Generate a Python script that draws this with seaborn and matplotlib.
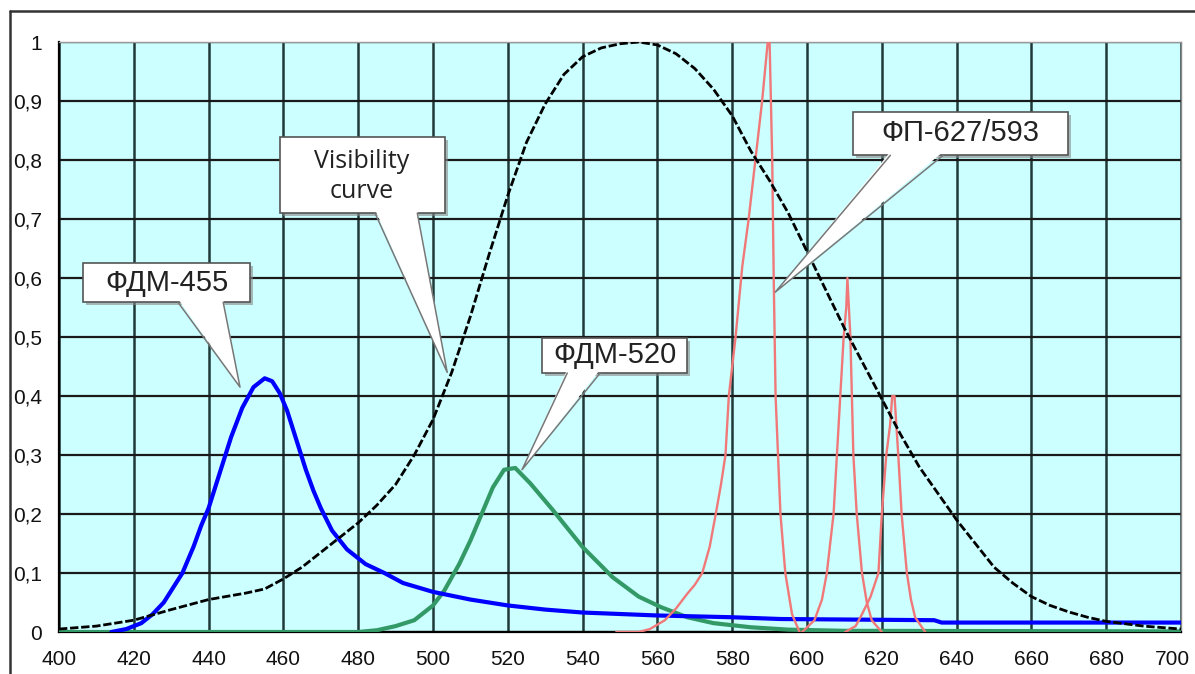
import numpy as np
import pandas as pd
import seaborn as sns
import matplotlib.pyplot as plt
import matplotlib.transforms as mtransforms
from matplotlib.patches import Rectangle, Polygon
import matplotlib.patheffects as pe

# visibility curve (black dotted)
vis_wl = [400, 410, 420, 430, 440, 450, 455, 460, 465, 470, 475, 480, 485, 490, 495, 500,
          505, 510, 515, 520, 525, 530, 535, 540, 545, 550, 555, 560, 565, 570, 575, 580,
          585, 590, 595, 600, 605, 610, 615, 620, 625, 630, 635, 640, 645, 650, 655, 660,
          665, 670, 675, 680, 690, 700]
vis_val = [0.005, 0.01, 0.02, 0.038, 0.055, 0.066, 0.073, 0.09, 0.11, 0.135, 0.16, 0.185,
           0.215, 0.25, 0.3, 0.36, 0.44, 0.535, 0.64, 0.74, 0.83, 0.895, 0.945, 0.975,
           0.99, 0.997, 1.0, 0.995, 0.98, 0.955, 0.92, 0.875, 0.815, 0.765, 0.71, 0.645,
           0.58, 0.515, 0.455, 0.395, 0.335, 0.28, 0.235, 0.19, 0.15, 0.11, 0.083, 0.06,
           0.045, 0.034, 0.025, 0.018, 0.01, 0.005]

# ФДМ-455 (blue)
b_wl = [414, 418, 420, 422, 425, 428, 430, 433, 436, 438, 440, 443, 446, 449, 452, 455, 457,
        459, 461, 463, 466, 468, 470, 473, 477, 482, 487, 492, 500, 510, 520, 530, 540, 560,
        580, 593, 634, 636, 700]
b_val = [0.0, 0.005, 0.01, 0.015, 0.03, 0.05, 0.07, 0.1, 0.145, 0.18, 0.21, 0.27, 0.33, 0.38,
         0.415, 0.43, 0.425, 0.405, 0.375, 0.335, 0.275, 0.24, 0.21, 0.172, 0.14, 0.115, 0.1,
         0.083, 0.068, 0.055, 0.045, 0.038, 0.033, 0.028, 0.025, 0.022, 0.02, 0.016, 0.016]

# ФДМ-520 (green)
g_wl = [400, 480, 485, 490, 495, 500, 503, 507, 510, 513, 516, 519, 522, 526, 532, 540, 548,
        555, 561, 568, 575, 585, 595, 610, 700]
g_val = [0.0, 0.0, 0.003, 0.01, 0.02, 0.045, 0.07, 0.115, 0.155, 0.2, 0.245, 0.275, 0.278,
         0.252, 0.207, 0.144, 0.093, 0.06, 0.042, 0.025, 0.015, 0.008, 0.004, 0.002, 0.001]

# ФП-627/593 (red), three peaks
r1_wl = [549, 555, 558, 562, 565, 568, 570, 572, 574, 575.6, 577, 578.2, 579.1, 580.9, 582.7,
         584.4, 586.2, 588, 589.5, 590, 590.7, 591.1, 591.6, 592.9, 594.2, 596, 598]
r1_val = [0, 0, 0.005, 0.02, 0.04, 0.065, 0.08, 0.1, 0.145, 0.2, 0.25, 0.3, 0.4, 0.5, 0.62,
          0.7, 0.8, 0.9, 1.0, 1.0, 0.8, 0.6, 0.4, 0.2, 0.1, 0.03, 0.0]
r2_wl = [598.7, 602, 604, 605.3, 607.1, 608, 608.9, 609.8, 610.5, 610.8, 611.6, 612, 612.4,
         613.3, 614.7, 616, 617.3, 620]
r2_val = [0, 0.02, 0.055, 0.1, 0.2, 0.3, 0.4, 0.5, 0.55, 0.6, 0.5, 0.4, 0.3, 0.2, 0.1, 0.05,
          0.02, 0]
r3_wl = [610.2, 613, 614.7, 617, 619.1, 620, 621.2, 622.2, 622.8, 623.4, 624.4, 625.3, 626.7,
         627.8, 628.9, 631.6]
r3_val = [0, 0.01, 0.03, 0.06, 0.1, 0.2, 0.3, 0.35, 0.4, 0.4, 0.3, 0.2, 0.1, 0.055, 0.025, 0]

x_ticks = list(range(400, 701, 20))
y_ticks = [round(0.1 * i, 1) for i in range(11)]
y_labels = ["0", "0,1", "0,2", "0,3", "0,4", "0,5", "0,6", "0,7", "0,8", "0,9", "1"]

sns.set_style("white")
plt.rcParams['font.family'] = ['Liberation Sans', 'DejaVu Sans']

fig = plt.figure(figsize=(11.95, 6.74), dpi=100)
ax = fig.add_axes([59 / 1195, 1 - 632 / 674, (1181 - 59) / 1195, (632 - 42) / 674])
ax.set_facecolor('#ccffff')

# outer frame of the picture
fig.add_artist(plt.Line2D([10 / 1195, 10 / 1195], [-0.01, 1 - 11 / 674], color='#333',
                          lw=1.8, transform=fig.transFigure))
fig.add_artist(plt.Line2D([10 / 1195, 1.0], [1 - 11 / 674, 1 - 11 / 674], color='#333',
                          lw=1.8, transform=fig.transFigure))

sns.lineplot(x=g_wl, y=g_val, ax=ax, color='#339966', lw=3, zorder=3)
sns.lineplot(x=b_wl, y=b_val, ax=ax, color='#0000ff', lw=3, zorder=3)
for wl, val in [(r1_wl, r1_val), (r2_wl, r2_val), (r3_wl, r3_val)]:
    sns.lineplot(x=wl, y=val, ax=ax, color='#f07878', lw=1.7, zorder=3)
sns.lineplot(x=vis_wl, y=vis_val, ax=ax, color='black', lw=2, zorder=4,
             linestyle=(0, (3, 1)))

ax.set_xlim(400, 700)
ax.set_ylim(0, 1)
ax.set_xticks(x_ticks)
ax.set_yticks(y_ticks)
ax.set_yticklabels(y_labels)
ax.tick_params(axis='both', labelsize=15, length=7, width=1.2, color='black', direction='out',
               labelcolor='#111')
ax.tick_params(axis='x', pad=6)
ax.tick_params(axis='y', pad=5)
ax.grid(True, color='#1a1a1a', lw=1.6)
ax.set_axisbelow(True)
ax.xaxis.grid(True, color='#203838', lw=1.8)
for s in ['left', 'bottom']:
    ax.spines[s].set_color('black')
    ax.spines[s].set_linewidth(1.6)
ax.spines['top'].set_color('#999')
ax.spines['top'].set_linewidth(1)
ax.spines['right'].set_color('#888')
ax.spines['right'].set_linestyle((0, (1, 1)))
ax.spines['right'].set_linewidth(1)

# keep the last x label inside the picture
last = ax.get_xticklabels()[-1]
last.set_transform(last.get_transform() +
                   mtransforms.ScaledTranslation(-6 / 72, 0, fig.dpi_scale_trans))


def callout(text, box, base, tip, center, family, fs, ls=1.2):
    x0, x1, y0, y1 = box
    shadow = [pe.SimplePatchShadow(offset=(2, -2), shadow_rgbFace='#888', alpha=0.6),
              pe.Normal()]
    ax.add_patch(Rectangle((x0, y0), x1 - x0, y1 - y0, fc='white', ec='#555', lw=1.2,
                           zorder=6, path_effects=shadow))
    ax.add_patch(Polygon([(base[0], y0 + 0.006), (base[1], y0 + 0.006), tip], closed=True,
                         fc='white', ec='none', zorder=7))
    ax.plot([base[0], tip[0], base[1]], [y0, tip[1], y0], color='#777', lw=1.1, zorder=7)
    ax.text(center[0], center[1], text, ha='center', va='center', fontsize=fs,
            family=family, color='#222', zorder=8, linespacing=ls)


callout("ФДМ-455", (406.4, 451.1, 0.559, 0.625), (431.8, 443.9), (448.4, 0.415),
        (428.8, 0.592), ['Liberation Sans', 'DejaVu Sans'], 21)
callout("Visibility\ncurve", (459.1, 503.2, 0.710, 0.839), (484.5, 495.8), (503.8, 0.44),
        (480.8, 0.772), ['Open Sans', 'DejaVu Sans'], 18, 1.3)
callout("ФДМ-520", (529.2, 568.0, 0.439, 0.498), (535.9, 544.7), (523.8, 0.275),
        (548.7, 0.469), ['Liberation Sans', 'DejaVu Sans'], 21)
callout("ФП-627/593", (612.4, 669.9, 0.808, 0.881), (622.3, 636.4), (591.5, 0.576),
        (641.0, 0.846), ['Liberation Sans', 'DejaVu Sans'], 21)

fig.savefig('out.png', dpi=100)
